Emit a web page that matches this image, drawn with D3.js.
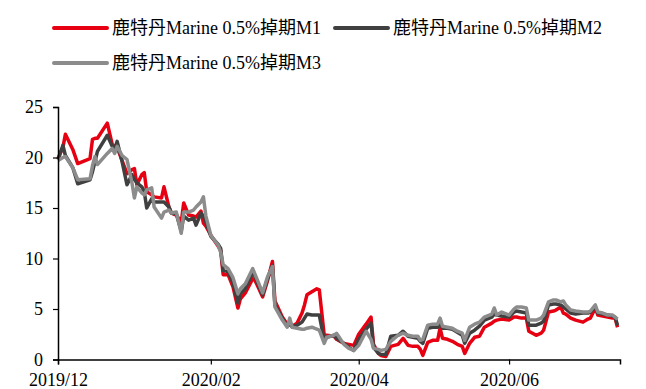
<!DOCTYPE html>
<html>
<head>
<meta charset="utf-8">
<script src="https://cdn.jsdelivr.net/npm/d3@7"></script>
<style>
  html, body { margin: 0; padding: 0; background: #fff; }
  svg { display: block; }
  text { font-family: "Liberation Serif", "Times New Roman", "Noto Sans CJK SC", serif; fill: #000; }
</style>
</head>
<body>
<svg id="chart" width="646" height="389"></svg>
<script>
// Rotterdam Marine 0.5% swap, front three months (USD/t spread)
const dates = [
  "2019-12-01","2019-12-03","2019-12-04","2019-12-07","2019-12-09","2019-12-14","2019-12-15","2019-12-16","2019-12-17","2019-12-21",
  "2019-12-23","2019-12-24","2019-12-25","2019-12-27","2019-12-29","2019-12-31","2020-01-01","2020-01-02","2020-01-04","2020-01-05",
  "2020-01-06","2020-01-08","2020-01-09","2020-01-12","2020-01-13","2020-01-15","2020-01-16","2020-01-18","2020-01-20","2020-01-21",
  "2020-01-23","2020-01-25","2020-01-26","2020-01-28","2020-01-29","2020-01-30","2020-02-01","2020-02-04","2020-02-05","2020-02-06",
  "2020-02-08","2020-02-10","2020-02-12","2020-02-13","2020-02-15","2020-02-18","2020-02-19","2020-02-22","2020-02-24","2020-02-26",
  "2020-02-27","2020-03-01","2020-03-03","2020-03-04","2020-03-05","2020-03-07","2020-03-09","2020-03-10","2020-03-11","2020-03-13",
  "2020-03-15","2020-03-16","2020-03-18","2020-03-19","2020-03-22","2020-03-23","2020-03-26","2020-03-28","2020-03-30","2020-04-01",
  "2020-04-04","2020-04-06","2020-04-07","2020-04-09","2020-04-10","2020-04-12","2020-04-14","2020-04-17","2020-04-19","2020-04-21",
  "2020-04-23","2020-04-25","2020-04-26","2020-04-27","2020-04-29","2020-05-01","2020-05-03","2020-05-04","2020-05-05","2020-05-07",
  "2020-05-09","2020-05-11","2020-05-13","2020-05-14","2020-05-16","2020-05-18","2020-05-20","2020-05-22","2020-05-25","2020-05-26",
  "2020-05-27","2020-05-29","2020-06-01","2020-06-03","2020-06-04","2020-06-06","2020-06-08","2020-06-09","2020-06-12","2020-06-14",
  "2020-06-15","2020-06-17","2020-06-19","2020-06-20","2020-06-22","2020-06-23","2020-06-24","2020-06-26","2020-06-28","2020-07-01",
  "2020-07-03","2020-07-04","2020-07-06","2020-07-07","2020-07-09","2020-07-11","2020-07-13","2020-07-14","2020-07-15"
];

const m1 = [
  19.9,21.0,22.3,20.8,19.4,19.9,21.8,21.9,21.9,23.4,
  21.3,21.1,21.0,19.7,18.4,18.8,18.9,17.3,18.3,18.5,
  16.6,16.3,16.1,16.0,17.1,15.1,14.5,14.3,13.6,15.5,
  14.3,14.2,14.1,14.7,13.5,13.2,12.3,11.2,10.8,8.4,
  8.4,7.2,5.1,6.0,6.6,8.0,7.8,6.2,7.8,9.7,
  5.8,4.2,3.5,3.4,3.3,3.6,4.6,5.4,6.4,6.7,
  7.0,6.9,2.4,2.4,2.3,2.0,1.6,1.5,1.4,2.5,
  3.5,4.2,1.5,0.6,0.4,0.3,1.3,1.5,2.1,1.4,
  1.3,1.3,1.0,0.4,1.7,1.9,1.9,3.1,2.1,2.0,
  1.8,1.5,1.3,0.6,1.6,2.2,2.3,3.2,3.6,3.8,
  3.9,4.0,3.9,4.2,4.2,4.1,4.1,2.8,2.4,2.6,
  2.9,4.7,4.8,4.9,5.2,4.6,4.5,4.1,3.9,3.7,
  4.0,4.1,5.1,4.4,4.3,4.2,4.1,4.1,3.2
];

const m2 = [
  19.8,21.2,20.2,19.0,17.4,17.8,18.6,19.6,20.6,22.2,
  21.1,20.8,21.6,19.6,17.3,18.3,17.8,17.5,17.1,16.6,
  15.0,15.9,15.6,15.6,15.6,15.1,14.5,14.4,12.7,14.2,
  13.8,14.0,13.3,14.5,14.2,13.6,12.2,11.4,11.0,8.8,
  8.7,7.6,5.6,6.5,7.0,8.6,8.2,6.4,8.0,9.3,
  5.4,4.1,3.3,3.8,3.2,3.4,3.7,4.1,4.5,4.4,
  4.4,4.4,1.9,2.2,2.4,2.1,1.6,1.2,0.9,2.0,
  3.0,3.6,1.2,0.6,0.5,0.5,2.3,2.4,2.8,2.3,
  2.2,2.1,1.8,1.6,3.1,3.2,3.2,3.7,3.1,3.1,
  3.0,2.7,2.4,1.6,2.6,2.9,3.3,3.9,4.2,4.5,
  4.4,4.3,4.2,4.7,4.8,4.7,4.6,3.4,3.4,3.6,
  3.8,5.4,5.5,5.5,5.4,5.2,5.0,4.6,4.5,4.6,
  4.6,4.7,5.2,4.6,4.5,4.4,4.3,4.2,3.4
];

const m3 = [
  19.7,20.0,20.1,19.0,17.8,17.9,19.2,20.1,19.3,20.4,
  20.9,20.4,21.1,20.2,19.8,17.5,16.0,17.1,16.5,16.3,
  16.8,17.0,15.1,14.0,14.6,14.8,14.5,14.6,12.5,14.6,
  14.6,14.8,15.1,15.6,16.1,14.2,12.3,11.3,10.6,9.4,
  9.0,8.1,6.5,7.0,7.5,9.0,8.4,6.6,8.2,9.2,
  5.2,3.9,3.2,4.1,3.2,3.1,3.0,3.0,3.1,3.2,
  3.0,2.9,1.6,2.2,2.4,2.6,1.5,1.1,0.9,1.4,
  2.8,2.0,1.1,1.0,0.9,1.0,1.8,2.4,2.6,2.4,
  2.3,2.3,1.9,2.0,3.4,3.5,3.5,4.1,3.3,3.2,
  3.1,2.8,2.6,1.9,3.2,3.5,3.7,4.2,4.5,5.1,
  4.4,4.7,4.4,5.0,5.2,5.2,5.1,3.9,3.9,4.1,
  4.4,5.7,5.9,5.9,5.7,5.8,5.4,4.9,4.8,4.7,
  4.7,4.8,5.4,4.7,4.6,4.4,4.4,4.2,4.0
];

const seriesNames = ["鹿特丹Marine 0.5%掉期M1", "鹿特丹Marine 0.5%掉期M2", "鹿特丹Marine 0.5%掉期M3"];
const seriesColors = ["#E60012", "#404040", "#8C8C8C"];
const yTicks = [0, 5, 10, 15, 20, 25];
const xTickDates = ["2019-12-01", "2020-02-01", "2020-04-01", "2020-06-01"];
const xTickLabels = ["2019/12", "2020/02", "2020/04", "2020/06"];
const xDomain = ["2019-12-01", "2020-07-16"];

const parse = d3.timeParse("%Y-%m-%d");
const svg = d3.select("#chart");

const margin = { left: 58, right: 26, top: 107, bottom: 29 };
const W = 646, H = 389;

const x = d3.scaleTime()
  .domain(xDomain.map(parse))
  .range([margin.left, W - margin.right]);
const y = d3.scaleLinear()
  .domain([0, 25])
  .range([H - margin.bottom - 0.5, margin.top]);

const series = [m1, m2, m3].map((vals, i) => ({
  name: seriesNames[i],
  color: seriesColors[i],
  points: vals.map((v, j) => ({ date: parse(dates[j]), value: v }))
}));

// Lines (M3 drawn last so it sits on top)
const line = d3.line()
  .x(d => x(d.date))
  .y(d => y(d.value));

svg.append("g")
  .selectAll("path")
  .data(series)
  .join("path")
  .attr("fill", "none")
  .attr("stroke", d => d.color)
  .attr("stroke-width", 3.5)
  .attr("stroke-linejoin", "round")
  .attr("d", d => line(d.points));

// Y axis
const yAxis = svg.append("g")
  .attr("transform", `translate(${margin.left},0)`)
  .call(d3.axisLeft(y).tickValues(yTicks).tickSize(5).tickPadding(10).tickFormat(d3.format("d")));
yAxis.select(".domain").attr("stroke", "#000").attr("stroke-width", 1.5);
yAxis.selectAll(".tick line").attr("stroke", "#000").attr("stroke-width", 1.2);
yAxis.selectAll(".tick text")
  .attr("font-family", "Liberation Serif, Times New Roman, serif")
  .attr("font-size", 18)
  .attr("fill", "#000");

// X axis
const xAxis = svg.append("g")
  .attr("transform", `translate(0,${y(0)})`)
  .call(d3.axisBottom(x)
    .tickValues(xTickDates.map(parse))
    .tickSize(5)
    .tickPadding(9)
    .tickFormat((d, i) => xTickLabels[i]));
xAxis.select(".domain").attr("stroke", "#000").attr("stroke-width", 1.5);
xAxis.selectAll(".tick line").attr("stroke", "#000").attr("stroke-width", 1.2);
xAxis.selectAll(".tick text")
  .attr("font-family", "Liberation Serif, Times New Roman, serif")
  .attr("font-size", 18)
  .attr("fill", "#000");

// Legend
const legendPos = [
  { lx: 54, ly: 28 },
  { lx: 335, ly: 28 },
  { lx: 54, ly: 63 }
];
const legend = svg.append("g")
  .selectAll("g")
  .data(series)
  .join("g")
  .attr("transform", (d, i) => `translate(${legendPos[i].lx},${legendPos[i].ly})`);
legend.append("line")
  .attr("x1", 0).attr("x2", 53)
  .attr("y1", 0).attr("y2", 0)
  .attr("stroke", d => d.color)
  .attr("stroke-width", 4)
  .attr("stroke-linecap", "round");
legend.append("text")
  .attr("x", 58)
  .attr("y", 0)
  .attr("dy", "0.35em")
  .attr("font-size", 18)
  .text(d => d.name);
</script>
</body>
</html>
